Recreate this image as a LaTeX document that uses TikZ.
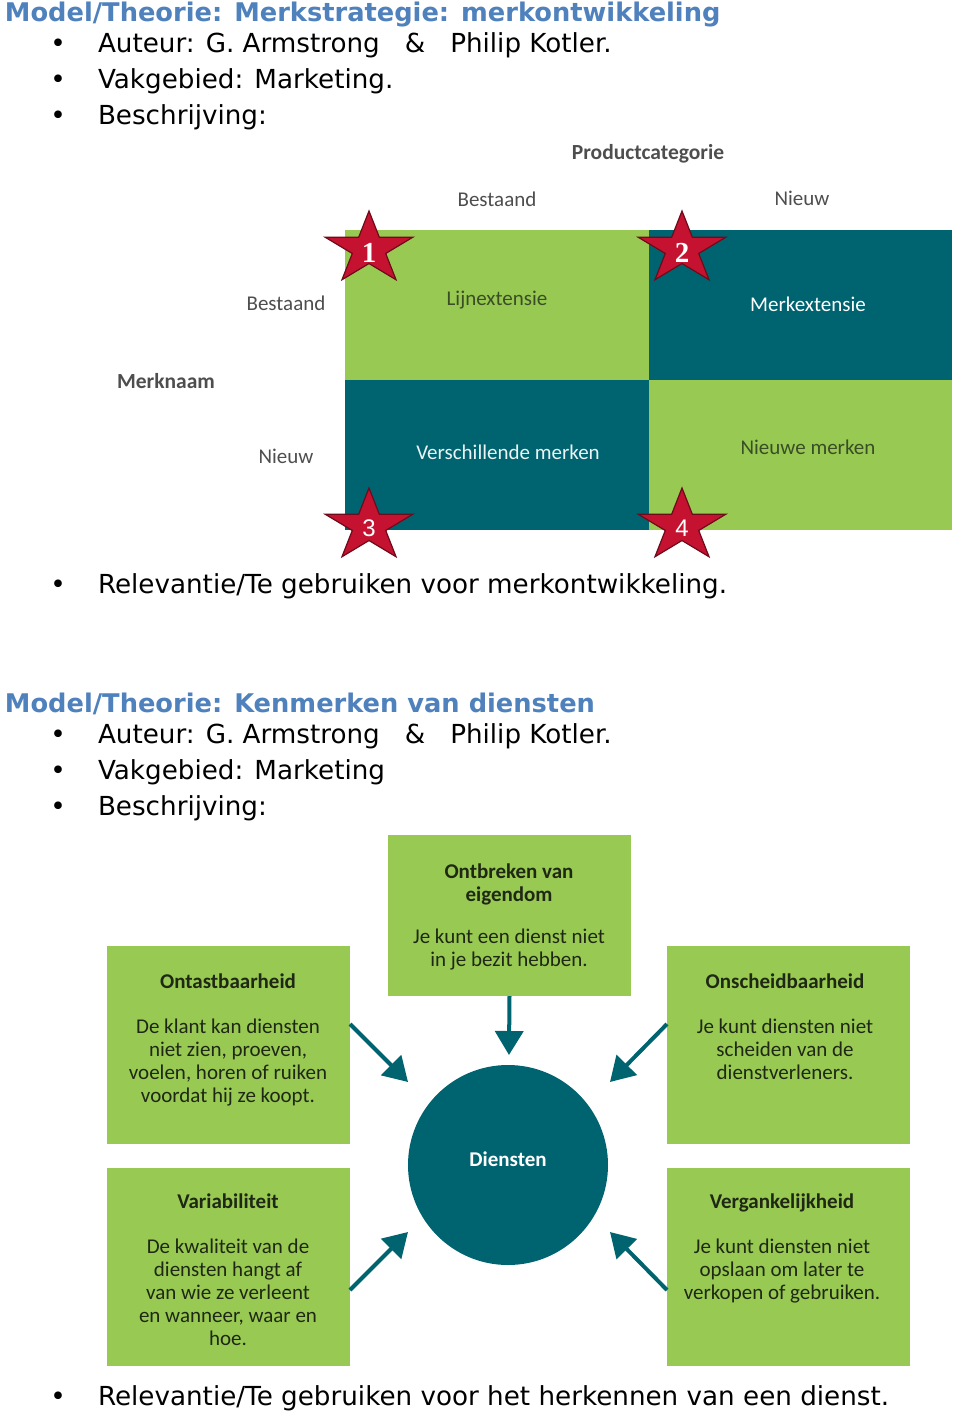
\documentclass[tikz,border=0pt]{standalone}
\usepackage{fontspec}
\setmainfont{DejaVu Sans}
\newfontfamily\cfont{Carlito}
\newfontfamily\sfnum{Liberation Sans}
\newfontfamily\rmnum{Liberation Serif}
\usetikzlibrary{arrows.meta,calc}
\definecolor{hblue}{RGB}{79,129,189}
\definecolor{mgreen}{RGB}{152,201,82}
\definecolor{mteal}{RGB}{0,100,112}
\definecolor{sred}{RGB}{196,18,48}
\definecolor{sdark}{RGB}{110,10,25}
\definecolor{lblgray}{RGB}{78,78,78}
\definecolor{lbldgreen}{RGB}{58,78,38}
\definecolor{btxt}{RGB}{30,40,20}
\newcommand\drawstar[2]{%
  \begin{scope}[shift={(#1,#2)}, x=46pt, y=38pt]
    \filldraw[starsty] (90:1) -- (126:0.382) -- (162:1) -- (198:0.382) -- (234:1) -- (270:0.382) -- (306:1) -- (342:0.382) -- (18:1) -- (54:0.382) -- cycle;
  \end{scope}}
\begin{document}
\begin{tikzpicture}[x=1pt,y=-1pt,
  every node/.style={inner sep=0pt, outer sep=0pt},
  titlesty/.style={anchor=base west, text=hblue, font=\bfseries\fontsize{25.7}{30}\selectfont},
  bulsty/.style={anchor=base, font=\fontsize{26.2}{31}\selectfont},
  linesty/.style={anchor=base west, font=\fontsize{26.2}{31}\selectfont},
  cellsty/.style={anchor=north west, minimum width=303.5pt, minimum height=150pt},
  axsty/.style={anchor=base, text=lblgray, font=\cfont\fontsize{21}{24}\selectfont},
  axbold/.style={anchor=base, text=lblgray, font=\cfont\bfseries\fontsize{21.5}{24}\selectfont},
  celltxt/.style={anchor=base, font=\cfont\fontsize{21}{24}\selectfont},
  starsty/.style={fill=sred, draw=sdark, line width=1.2pt, line join=miter},
  numrm/.style={text=white, font=\rmnum\bfseries\fontsize{29}{29}\selectfont},
  numsf/.style={text=white, font=\sfnum\fontsize{24}{24}\selectfont},
  boxsty/.style={anchor=north west, fill=mgreen, minimum width=243pt},
  bhead/.style={anchor=north, align=center, text=btxt, font=\cfont\bfseries\fontsize{21}{23}\selectfont},
  bbody/.style={anchor=north, align=center, text=btxt, font=\cfont\fontsize{21}{23}\selectfont},
  arr/.style={draw=mteal, line width=4pt, -{Triangle[length=24pt,width=28pt]}}
  ]
\useasboundingbox (0,0) rectangle (960,1414);
\fill[white] (0,0) rectangle (960,1414);

% ---------- Section 1 ----------
\node[titlesty] (title1) at (5,21) {Model/Theorie: Merkstrategie: merkontwikkeling};
\node[bulsty] (b1) at (58,52) {•};
\node[linesty] (l1) at (98,52) {Auteur: G. Armstrong\ \ \ \&\ \ \ Philip Kotler.};
\node[bulsty] (b2) at (58,88) {•};
\node[linesty] (l2) at (98,88) {Vakgebied: Marketing.};
\node[bulsty] (b3) at (58,124) {•};
\node[linesty] (l3) at (98,124) {Beschrijving:};

% matrix
\node[cellsty, fill=mgreen] (c11) at (345,230) {};
\node[cellsty, fill=mteal] (c12) at (648.5,230) {};
\node[cellsty, fill=mteal] (c21) at (345,380) {};
\node[cellsty, fill=mgreen] (c22) at (648.5,380) {};

\node[axbold] (pc) at (648,159) {Productcategorie};
\node[axsty] (pbest) at (497,206) {Bestaand};
\node[axsty] (pnieuw) at (802,205) {Nieuw};
\node[axsty] (mbest) at (286,310) {Bestaand};
\node[axbold] (mn) at (166,388) {Merknaam};
\node[axsty] (mnieuw) at (286,463) {Nieuw};

\node[celltxt, text=lbldgreen] (lijn) at (497,305) {Lijnextensie};
\node[celltxt, text=white] (merk) at (808,311) {Merkextensie};
\node[celltxt, text=white!92!mteal] (vers) at (508,459) {Verschillende merken};
\node[celltxt, text=lbldgreen] (nieuwe) at (808,454) {Nieuwe merken};

\drawstar{369}{249}
\drawstar{682}{249}
\drawstar{369}{526}
\drawstar{682}{526}
\node[numrm] (n1) at (369,252.5) {1};
\node[numrm] (n2) at (682,252.5) {2};
\node[numsf] (n3) at (369,528.5) {3};
\node[numsf] (n4) at (682,528.5) {4};

\node[bulsty] (b4) at (58,593) {•};
\node[linesty] (l4) at (98,593) {Relevantie/Te gebruiken voor merkontwikkeling.};

% ---------- Section 2 ----------
\node[titlesty] (title2) at (5,712) {Model/Theorie: Kenmerken van diensten};
\node[bulsty] (b5) at (58,743) {•};
\node[linesty] (l5) at (98,743) {Auteur: G. Armstrong\ \ \ \&\ \ \ Philip Kotler.};
\node[bulsty] (b6) at (58,779) {•};
\node[linesty] (l6) at (98,779) {Vakgebied: Marketing};
\node[bulsty] (b7) at (58,815) {•};
\node[linesty] (l7) at (98,815) {Beschrijving:};

% boxes
\node[boxsty, minimum height=161pt] (own) at (388,835) {};
\node[boxsty, minimum height=198pt] (ont) at (107,946) {};
\node[boxsty, minimum height=198pt] (ons) at (667,946) {};
\node[boxsty, minimum height=198pt] (var) at (107,1168) {};
\node[boxsty, minimum height=198pt] (ver) at (667,1168) {};

\node[bhead] (ownh) at (509,862) {\rule{0pt}{16pt}Ontbreken van\\eigendom};
\node[bbody] (ownb) at (509,927) {\rule{0pt}{16pt}Je kunt een dienst niet\\in je bezit hebben.};

\node[bhead] (onth) at (228,972) {\rule{0pt}{16pt}Ontastbaarheid};
\node[bbody] (ontb) at (228,1017) {\rule{0pt}{16pt}De klant kan diensten\\niet zien, proeven,\\voelen, horen of ruiken\\voordat hij ze koopt.};

\node[bhead] (onsh) at (785,972) {\rule{0pt}{16pt}Onscheidbaarheid};
\node[bbody] (onsb) at (785,1017) {\rule{0pt}{16pt}Je kunt diensten niet\\scheiden van de\\dienstverleners.};

\node[bhead] (varh) at (228,1192) {\rule{0pt}{16pt}Variabiliteit};
\node[bbody] (varb) at (228,1237) {\rule{0pt}{16pt}De kwaliteit van de\\diensten hangt af\\van wie ze verleent\\en wanneer, waar en\\hoe.};

\node[bhead] (verh) at (782,1192) {\rule{0pt}{16pt}Vergankelijkheid};
\node[bbody] (verb) at (782,1237) {\rule{0pt}{16pt}Je kunt diensten niet\\opslaan om later te\\verkopen of gebruiken.};

% circle
\node[circle, fill=mteal, minimum size=200pt] (dien) at (508,1165) {};
\node[anchor=base, text=white, font=\cfont\bfseries\fontsize{21}{24}\selectfont] (dienl) at (508,1166) {Diensten};

% arrows
\coordinate (t1) at (408,1082);
\coordinate (t2) at (610,1082);
\coordinate (t3) at (408,1232);
\coordinate (t4) at (610,1232);
\draw[arr, shorten >=10pt] (own.south) -- (dien);
\draw[arr] ([yshift=21pt]ont.east) -- (t1);
\draw[arr] ([yshift=21pt]ons.west) -- (t2);
\draw[arr] ([yshift=-23pt]var.east) -- (t3);
\draw[arr] ([yshift=-23pt]ver.west) -- (t4);

\node[bulsty] (b8) at (58,1405) {•};
\node[linesty] (l8) at (98,1405) {Relevantie/Te gebruiken voor het herkennen van een dienst.};
\end{tikzpicture}
\end{document}
